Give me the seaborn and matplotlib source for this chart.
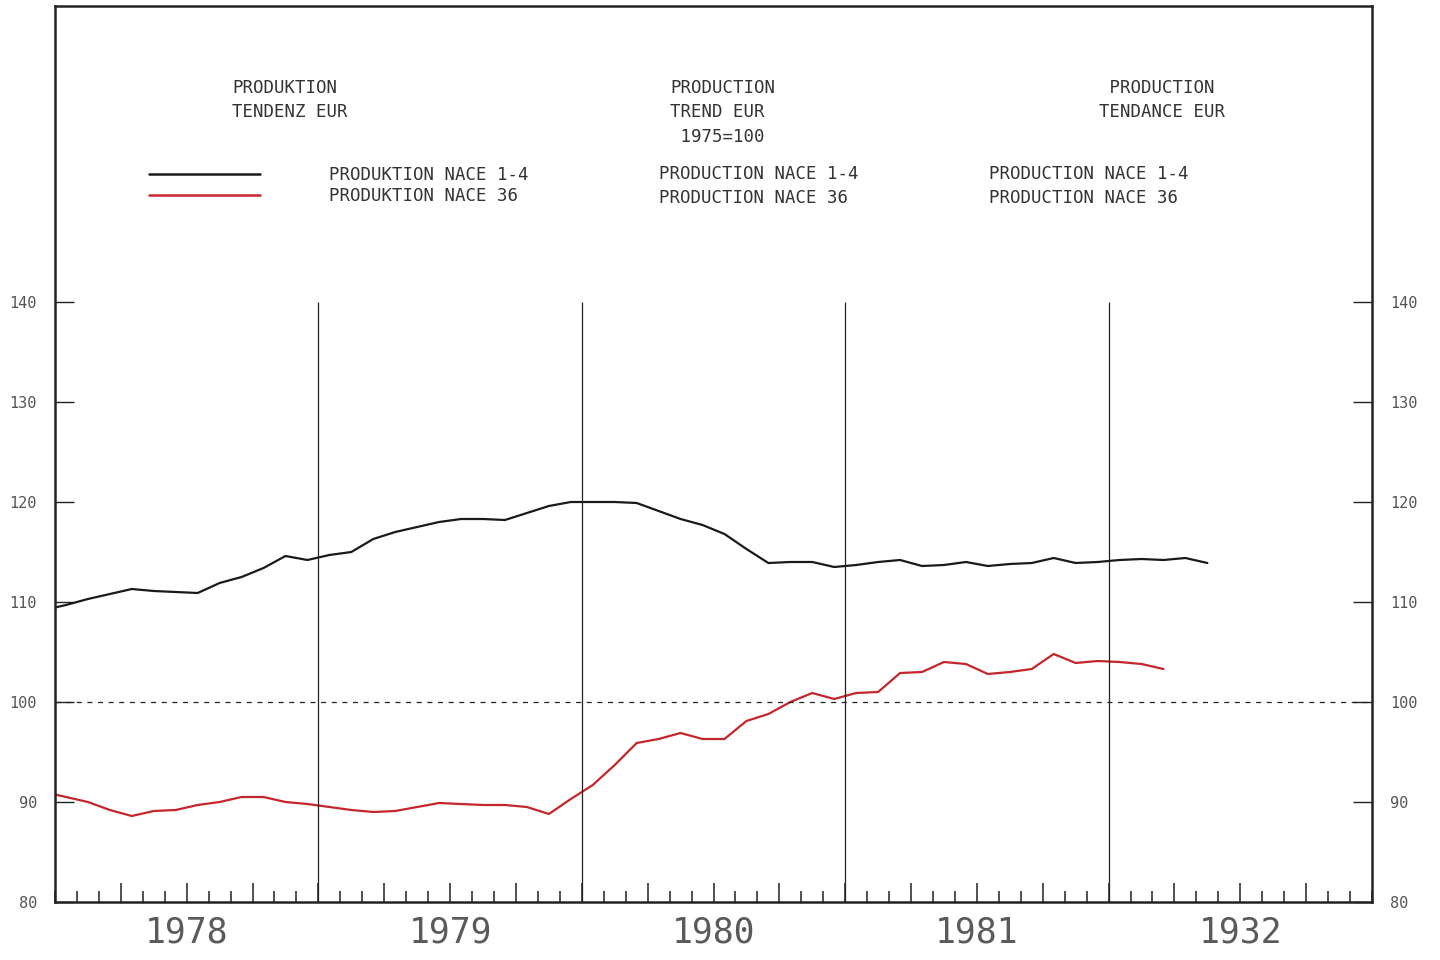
import numpy as np
import pandas as pd
import seaborn as sns
import matplotlib.pyplot as plt

# monthly index values, Dec 1977 .. May 1982 (mid-month)
nace_1_4 = [109.2, 109.7, 110.3, 110.8, 111.3, 111.1, 111.0, 110.9, 111.9, 112.5, 113.4, 114.6,
            114.2, 114.7, 115.0, 116.3, 117.0, 117.5, 118.0, 118.3, 118.3, 118.2, 118.9, 119.6,
            120.0, 120.0, 120.0, 119.9, 119.1, 118.3, 117.7, 116.8, 115.3, 113.9, 114.0, 114.0,
            113.5, 113.7, 114.0, 114.2, 113.6, 113.7, 114.0, 113.6, 113.8, 113.9, 114.4, 113.9,
            114.0, 114.2, 114.3, 114.2, 114.4, 113.9]
# Dec 1977 .. Mar 1982
nace_36 = [91.0, 90.5, 90.0, 89.2, 88.6, 89.1, 89.2, 89.7, 90.0, 90.5, 90.5, 90.0,
           89.8, 89.5, 89.2, 89.0, 89.1, 89.5, 89.9, 89.8, 89.7, 89.7, 89.5, 88.8,
           90.3, 91.7, 93.7, 95.9, 96.3, 96.9, 96.3, 96.3, 98.1, 98.8, 100.0, 100.9,
           100.3, 100.9, 101.0, 102.9, 103.0, 104.0, 103.8, 102.8, 103.0, 103.3, 104.8, 103.9,
           104.1, 104.0, 103.8, 103.3]

series_names = ['PRODUKTION NACE 1-4', 'PRODUKTION NACE 36']
colors = {'PRODUKTION NACE 1-4': '#1a1a1a', 'PRODUKTION NACE 36': '#c4262b'}
year_labels = ['1978', '1979', '1980', '1981', '1932']
year_bounds = [1979, 1980, 1981, 1982]
y_ticks = [80, 90, 100, 110, 120, 130, 140]


def month_pos(n):
    # mid-month decimal years, first point is Dec 1977
    return 1978 + (np.arange(n) - 0.5) / 12


df = pd.concat([
    pd.DataFrame({'t': month_pos(len(nace_1_4)), 'index': nace_1_4, 'series': series_names[0]}),
    pd.DataFrame({'t': month_pos(len(nace_36)), 'index': nace_36, 'series': series_names[1]}),
], ignore_index=True)

sns.set_style('white')
plt.rcParams['font.family'] = ['DejaVu Sans Mono', 'DejaVu Sans']

fig = plt.figure(figsize=(14.4, 9.6), dpi=100)
ax = fig.add_axes([55 / 1440, 58 / 960, 1317 / 1440, 896 / 960])

sns.lineplot(data=df, x='t', y='index', hue='series', palette=colors, linewidth=1.6, ax=ax)

ax.set_xlim(1978, 1983)
ax.set_ylim(80, 169.6)

# reference lines
ax.axhline(100, color='#222222', linewidth=0.9, linestyle=(0, (4, 4.5)))
ax.vlines(year_bounds, 80, 140, color='#222222', linewidth=0.9)

for side in ['left', 'right', 'top', 'bottom']:
    ax.spines[side].set_color('#222222')
    ax.spines[side].set_linewidth(1.8)

# x axis: quarter ticks long, month ticks short, year labels mid-year
quarters = np.arange(1978.25, 1983, 0.25)
ax.set_xticks(quarters)
ax.set_xticklabels([year_labels[int(q) - 1978] if (q % 1) == 0.5 else '' for q in quarters])
ax.set_xticks(np.arange(1978, 1983.01, 1 / 12), minor=True)
ax.tick_params(axis='x', which='major', direction='in', length=14, width=1.1, color='#222222',
               bottom=True, pad=10, labelsize=25, labelcolor='#5a5a5a')
ax.tick_params(axis='x', which='minor', direction='in', length=8, width=1.1, color='#222222',
               bottom=True)

ax.set_yticks(y_ticks)
ax.set_yticklabels([str(v) for v in y_ticks])
ax.tick_params(axis='y', which='major', direction='in', length=14, width=1.0, color='#222222',
               left=True, right=True, labelleft=True, labelright=True,
               pad=13, labelsize=11, labelcolor='#555555')
ax.set_xlabel('')
ax.set_ylabel('')

# legend with the German labels
leg = ax.legend(loc='upper left', bbox_to_anchor=(0.066, 0.8295), frameon=False,
                fontsize=12.5, handlelength=6.4, handletextpad=4.0, labelspacing=0.2,
                borderaxespad=0)
for txt in leg.get_texts():
    txt.set_color('#333333')
for h in leg.get_lines():
    h.set_linewidth(1.8)

txt_kw = dict(transform=ax.transAxes, fontsize=12.5, color='#333333', va='top', ha='left',
              linespacing=1.45)


def ax_xy(px, py):
    # pixel position (from top-left of figure) -> axes fraction
    return (px - 55) / 1317, (902 - py) / 896


ax.text(*ax_xy(232, 79), 'PRODUKTION\nTENDENZ EUR', **txt_kw)
ax.text(*ax_xy(670, 79), 'PRODUCTION\nTREND EUR\n 1975=100', **txt_kw)
ax.text(*ax_xy(1099, 79), ' PRODUCTION\nTENDANCE EUR', **txt_kw)
ax.text(*ax_xy(659, 165), 'PRODUCTION NACE 1-4\nPRODUCTION NACE 36', **txt_kw)
ax.text(*ax_xy(989, 165), 'PRODUCTION NACE 1-4\nPRODUCTION NACE 36', **txt_kw)

fig.savefig('out.png', dpi=100, facecolor='white')
